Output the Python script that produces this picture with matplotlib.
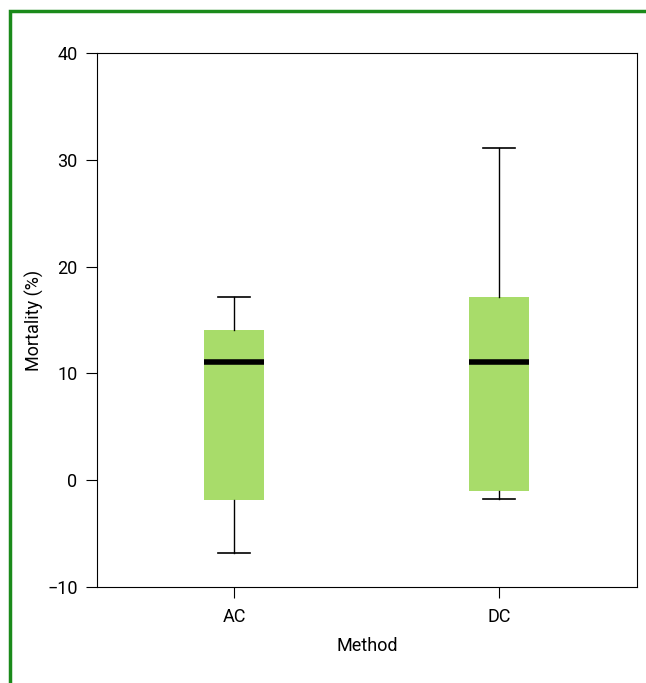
import matplotlib.pyplot as plt
from matplotlib.patches import Rectangle

plt.rcParams['font.family'] = ['Roboto', 'DejaVu Sans']

methods = ['AC', 'DC']
whisker_low = [-6.8, -1.8]
q1 = [-1.9, -1.0]
medians = [11.1, 11.1]
q3 = [14.1, 17.2]
whisker_high = [17.2, 31.1]

stats = []
for i in range(len(methods)):
    stats.append({'label': methods[i], 'whislo': whisker_low[i], 'q1': q1[i],
                  'med': medians[i], 'q3': q3[i], 'whishi': whisker_high[i],
                  'fliers': []})

fig = plt.figure(figsize=(6.46, 6.83), dpi=100)
# green frame around the figure
fig.patches.append(Rectangle((10 / 646, -0.1), 1.2, (683 - 11) / 683 + 0.1,
                             transform=fig.transFigure, fill=False,
                             edgecolor='#1a8a1a', linewidth=2.5))

ax = fig.add_axes([97 / 646, 1 - 587 / 683, 540 / 646, 534 / 683])
ax.bxp(stats, positions=[1, 2], widths=0.227, patch_artist=True,
       boxprops=dict(facecolor='#a8dc6a', edgecolor='none'),
       medianprops=dict(color='black', linewidth=4),
       whiskerprops=dict(color='black', linewidth=1),
       capprops=dict(color='black', linewidth=1.2),
       capwidths=0.12, showfliers=False)

ax.set_xlim(0.482, 2.52)
ax.set_ylim(-10, 40)
ax.set_yticks([-10, 0, 10, 20, 30, 40])
ax.set_xticks([1, 2])
ax.set_xticklabels(methods)
ax.tick_params(axis='both', length=8, labelsize=13, pad=6)
ax.tick_params(axis='x', labelsize=13, pad=7)
ax.set_xlabel('Method', fontsize=13, labelpad=8)
ax.set_ylabel('Mortality (%)', fontsize=13, labelpad=2)

fig.savefig('out.png', dpi=100)
